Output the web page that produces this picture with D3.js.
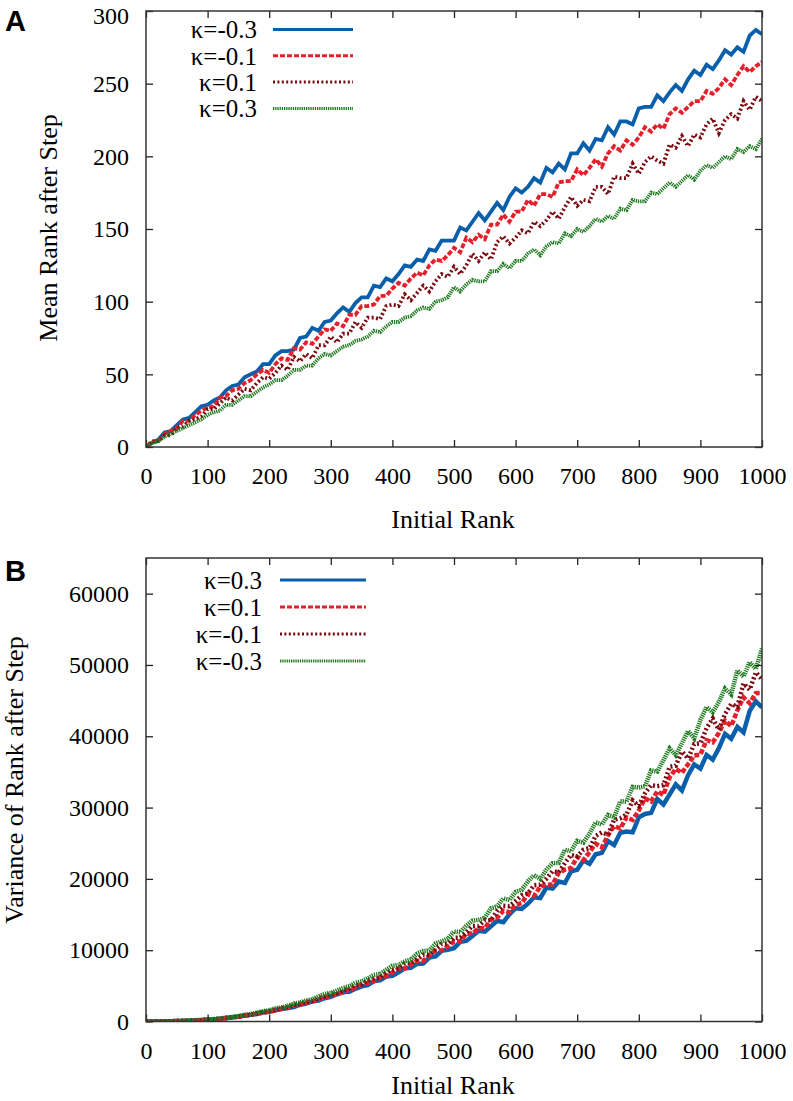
<!DOCTYPE html>
<html><head><meta charset="utf-8">
<script src="https://cdn.jsdelivr.net/npm/d3@7"></script>
<style>
body{margin:0;background:#fff}
svg text{font-family:"Liberation Serif","Times New Roman",serif;fill:#000}
</style>
</head><body>
<svg id="chart" width="793" height="1101"></svg>
<script>
// ---------- data ----------
const ranks = d3.range(0, 1001, 10); // initial rank, step 10
const xTicks = [0,100,200,300,400,500,600,700,800,900,1000];
const meanTicks = [0,50,100,150,200,250,300];
const varTicks = [0,10000,20000,30000,40000,50000,60000];

// Panel A: mean rank after step
const meanKm03 = [0,3,5,10,11,15,19,20,24,28,29,32,34,39,42,43,48,50,52,57,57,63,66,66,67,75,76,82,80,86,87,92,96,93,99,103,103,111,110,116,114,119,125,124,129,128,136,135,142,142,142,151,149,155,161,156,162,168,163,172,178,175,179,185,182,192,189,195,191,202,202,209,204,212,211,220,215,224,224,222,233,234,234,242,238,244,249,245,253,259,256,263,260,266,273,270,275,272,283,287,284];
const meanKm01 = [0,3,4,9,11,13,18,18,22,25,27,28,34,35,39,40,44,46,50,53,51,57,61,60,68,67,72,71,76,81,80,85,83,91,91,97,97,98,104,104,109,113,111,116,120,118,125,129,128,132,137,134,144,141,146,143,153,153,160,155,162,162,170,166,174,174,172,182,183,183,191,187,192,198,193,202,207,204,211,208,213,220,217,222,219,229,233,230,234,238,238,245,243,247,253,249,256,262,258,262,265];
const meanKp01 = [0,4,4,8,8,13,14,18,19,21,26,26,30,34,32,36,40,39,44,48,47,51,56,53,62,59,64,61,70,70,76,72,78,78,86,82,89,89,88,97,98,97,105,101,106,111,107,114,119,117,124,119,125,133,128,134,129,141,145,140,144,149,147,155,152,156,162,157,165,172,166,170,169,179,179,174,186,185,185,195,188,196,200,197,195,208,206,214,207,215,213,222,226,216,225,229,226,238,232,241,238];
const meanKp03 = [0,3,4,7,9,11,13,15,17,19,22,24,25,29,29,32,35,35,38,41,43,46,46,49,53,53,56,56,61,64,63,66,69,70,73,74,76,80,79,83,86,86,89,90,94,96,95,100,101,103,110,107,112,115,114,114,121,121,126,123,128,128,133,136,132,138,141,140,147,145,150,148,152,157,155,159,157,164,163,170,169,169,175,174,178,182,179,183,187,184,190,194,192,196,200,198,205,203,207,205,212];

// Panel B: variance of rank after step
const varKp03 = [0,3,10,20,35,55,80,110,145,185,230,290,370,480,580,660,820,930,1060,1260,1350,1560,1760,1890,2040,2360,2530,2830,2930,3260,3450,3820,4130,4160,4580,4930,5090,5670,5780,6300,6390,6880,7460,7540,8080,8140,8970,9120,9920,10060,10290,11170,11300,12000,12730,12590,13340,14120,13930,15030,15880,15800,16520,17420,17300,18780,18640,19620,19430,21060,21280,22580,22110,23450,23650,25300,24740,26460,26640,26540,28640,29100,29260,31210,30440,31830,33260,32400,34540,36050,35460,37380,36730,38330,40350,39640,41320,40540,43540,44900,44060];
const varKp01 = [0,3,11,22,38,60,86,118,155,198,245,270,370,460,580,660,810,930,1100,1270,1360,1580,1780,1920,2220,2350,2650,2780,3080,3440,3560,3910,4040,4540,4710,5230,5400,5620,6200,6370,6870,7390,7410,7960,8530,8510,9290,9920,9980,10540,11220,11250,12320,12330,13090,13070,14280,14540,15530,15320,16360,16610,17880,17600,18930,19180,19210,20840,21290,21520,23070,22610,23760,24940,24410,26130,27400,27060,28640,28260,29600,31290,30850,32280,31780,34250,35430,34880,36080,37300,37420,39450,39160,40460,42190,41430,43630,45460,44630,46040,46060];
const varKm01 = [0,4,12,24,41,64,92,126,165,210,260,300,390,500,590,720,870,960,1160,1350,1470,1660,1890,2020,2340,2480,2760,2890,3300,3500,3890,3990,4410,4630,5140,5210,5770,6010,6180,6870,7190,7440,8150,8160,8750,9360,9330,10180,10860,10910,11730,11760,12500,13410,13410,14220,14190,15490,16230,16170,16920,17690,17950,19120,19190,20020,21080,20910,22220,23370,23150,24080,24300,26030,26520,26190,28310,28520,29000,30990,30260,32000,33150,33000,33150,35720,35880,37850,36880,38900,39030,41140,42490,40920,43130,44520,44140,47400,46530,48960,48020];
const varKm03 = [0,4,13,26,44,68,98,134,176,224,280,340,420,550,640,780,940,1040,1250,1450,1580,1830,1960,2210,2520,2660,2960,3100,3540,3860,4010,4350,4710,4950,5440,5630,6040,6540,6660,7260,7820,7930,8440,8700,9510,9880,9950,10950,11230,11620,12610,12520,13440,14130,14270,14540,15870,16160,17260,17030,18180,18450,19660,20530,20000,21290,22200,22230,24090,23880,25340,25090,26350,27930,27620,28970,28620,30900,30820,32910,32800,32990,35210,35060,36650,38300,37350,39030,40750,39690,42270,44100,43370,44790,46700,45870,49240,48370,50390,49440,52300];

// ---------- styles ----------
const STY = {
  blue:    {color:"#0a5fab", dash:null},
  red:     {color:"#e3202b", dash:"5,2"},
  darkred: {color:"#780a10", dash:"2,2.4"},
  green:   {color:"#1f7a1f", dash:"1.3,0.9"}
};

const svg = d3.select("#chart");
const X0 = 146, X1 = 762;

function drawPanel(o){
  const x = d3.scaleLinear().domain([0,1000]).range([X0, X1]);
  const y = d3.scaleLinear().domain([0, o.yMax]).range([o.bottom, o.top]);
  const id = "clip" + o.name;
  svg.append("clipPath").attr("id", id).append("rect")
    .attr("x", X0).attr("y", o.top).attr("width", X1 - X0).attr("height", o.bottom - o.top);

  const line = d3.line().x((d,i)=>x(ranks[i])).y(d=>y(d));
  const gl = svg.append("g").attr("clip-path", `url(#${id})`);
  o.series.forEach(s=>{
    gl.append("path").datum(s.values)
      .attr("d", line)
      .attr("fill","none")
      .attr("stroke", STY[s.style].color)
      .attr("stroke-width", o.lineW)
      .attr("stroke-linejoin","miter")
      .attr("stroke-dasharray", STY[s.style].dash);
  });

  // axes (ticks inward on all sides)
  const styleAxis = g => {
    g.select(".domain").remove();
    g.selectAll(".tick line").attr("stroke","#222").attr("stroke-width",1.3);
    g.selectAll(".tick text").attr("font-size", o.tickFont)
      .attr("font-family","'Liberation Serif','Times New Roman',serif").attr("fill","#000");
  };
  svg.append("g").attr("transform",`translate(0,${o.bottom})`)
    .call(d3.axisBottom(x).tickValues(xTicks).tickSize(-7).tickPadding(20).tickFormat(d3.format("d")))
    .call(styleAxis);
  svg.append("g").attr("transform",`translate(0,${o.top})`)
    .call(d3.axisTop(x).tickValues(xTicks).tickSize(-7).tickFormat(""))
    .call(styleAxis);
  const yl = svg.append("g").attr("transform",`translate(${X0},0)`)
    .call(d3.axisLeft(y).tickValues(o.yTicks).tickSize(-7).tickPadding(17).tickFormat(d3.format("d")))
    .call(styleAxis);
  // keep the top tick label inside the page
  yl.selectAll(".tick text").filter(d => y(d) < 16).attr("dy", "0.5em");
  svg.append("g").attr("transform",`translate(${X1},0)`)
    .call(d3.axisRight(y).tickValues(o.yTicks).tickSize(-7).tickFormat(""))
    .call(styleAxis);

  // frame
  svg.append("rect").attr("x",X0).attr("y",o.top).attr("width",X1-X0).attr("height",o.bottom-o.top)
    .attr("fill","none").attr("stroke","#333").attr("stroke-width",1.5);

  // axis titles
  svg.append("text").attr("x", (X0+X1)/2 - 1).attr("y", o.xTitleY)
    .attr("text-anchor","middle").attr("font-size", 26).text("Initial Rank");
  svg.append("text").attr("transform",`translate(${o.yTitleX},${o.yTitleY}) rotate(-90)`)
    .attr("text-anchor","middle").attr("font-size", 26).text(o.yTitle);

  // panel letter
  svg.append("text").attr("x",5).attr("y",o.letterY)
    .style("font-family","'Liberation Sans',Arial,sans-serif").attr("font-weight","bold")
    .attr("font-size",29).text(o.name);

  // legend
  o.series.forEach((s,i)=>{
    const cy = o.legY0 + i*o.legDy;
    svg.append("text").attr("x", o.legTextX).attr("y", cy).attr("dy","0.35em")
      .attr("text-anchor","end").attr("font-size", o.legFont).text(s.label);
    svg.append("line").attr("x1",o.legX1).attr("x2",o.legX2).attr("y1",cy).attr("y2",cy)
      .attr("stroke",STY[s.style].color).attr("stroke-width",3)
      .attr("stroke-dasharray",STY[s.style].dash);
  });
}

drawPanel({
  name:"A", top:11, bottom:447, yMax:300, yTicks:meanTicks, tickFont:24, lineW:3.8,
  xTitleY:528, yTitleX:57, yTitleY:228, yTitle:"Mean Rank after Step", letterY:31,
  legTextX:257, legX1:273, legX2:353, legY0:29.5, legDy:26.3, legFont:25,
  series:[
    {label:"κ=-0.3", style:"blue", values:meanKm03},
    {label:"κ=-0.1", style:"red", values:meanKm01},
    {label:"κ=0.1", style:"darkred", values:meanKp01},
    {label:"κ=0.3", style:"green", values:meanKp03}
  ]
});

drawPanel({
  name:"B", top:558, bottom:1021.5, yMax:65000, yTicks:varTicks, tickFont:24, lineW:4.5,
  xTitleY:1094, yTitleX:23, yTitleY:780, yTitle:"Variance of Rank after Step", letterY:581,
  legTextX:262, legX1:280, legX2:366, legY0:580, legDy:27, legFont:25,
  series:[
    {label:"κ=0.3", style:"blue", values:varKp03},
    {label:"κ=0.1", style:"red", values:varKp01},
    {label:"κ=-0.1", style:"darkred", values:varKm01},
    {label:"κ=-0.3", style:"green", values:varKm03}
  ]
});
</script>
</body></html>
